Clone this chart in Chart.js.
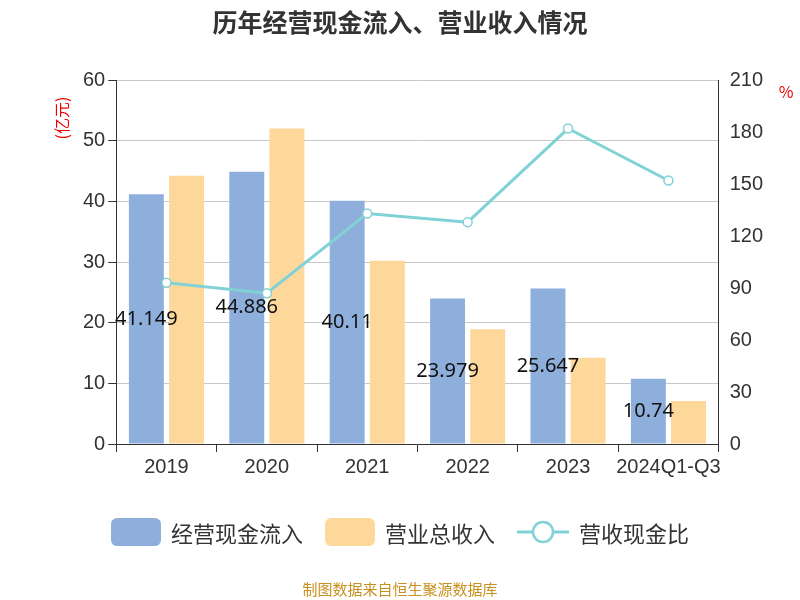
<!DOCTYPE html>
<html>
<head>
<meta charset="utf-8">
<script src="https://cdn.jsdelivr.net/npm/chart.js@4"></script>
<style>
  body { margin: 0; background: #fff; font-family: "Noto Sans CJK SC", "Noto Sans", sans-serif; }
  #wrap { position: relative; width: 800px; height: 600px; }
  #legend { position: absolute; top: 516px; left: 0; width: 800px; display: flex; justify-content: center; gap: 22px; font-size: 22px; color: #333; }
  .item { display: flex; align-items: center; gap: 10px; }
  .box { width: 50px; height: 28px; border-radius: 6px; }
  #src { position: absolute; top: 578px; width: 800px; text-align: center; font-size: 15px; color: #c8901e; }
</style>
</head>
<body>
<div id="wrap">
  <canvas id="c" width="800" height="600"></canvas>
  <div id="legend">
    <div class="item"><div class="box" style="background:#8eaedc"></div>经营现金流入</div>
    <div class="item"><div class="box" style="background:#fed89a"></div>营业总收入</div>
    <div class="item">
      <svg width="52" height="28"><line x1="0" y1="14" x2="52" y2="14" stroke="#80d2d6" stroke-width="3"/><circle cx="26" cy="14" r="10" fill="#fff" stroke="#80d2d6" stroke-width="2.5"/></svg>
      营收现金比
    </div>
  </div>
  <div id="src">制图数据来自恒生聚源数据库</div>
</div>
<script>
const categories = ["2019", "2020", "2021", "2022", "2023", "2024Q1-Q3"];
const cashInflow = [41.149, 44.886, 40.11, 23.979, 25.647, 10.74];
const revenue = [44.2, 52.0, 30.2, 18.9, 14.2, 7.1];
const cashRatio = [93, 87, 133, 128, 182, 152];

// 柱子中间的数值标签
const barLabels = {
  id: "barLabels",
  afterDatasetsDraw(chart) {
    const ctx = chart.ctx;
    const meta = chart.getDatasetMeta(0);
    ctx.save();
    ctx.font = "20px 'Noto Sans', sans-serif";
    ctx.fillStyle = "#111";
    ctx.textAlign = "center";
    ctx.textBaseline = "middle";
    meta.data.forEach((bar, i) => {
      ctx.fillText(String(cashInflow[i]), bar.x, (bar.y + bar.base) / 2);
    });
    ctx.restore();
  }
};

const titles = {
  id: "titles",
  afterDraw(chart) {
    const ctx = chart.ctx;
    ctx.save();
    ctx.fillStyle = "#333";
    ctx.font = "bold 25px 'Noto Sans CJK SC'";
    ctx.textAlign = "center";
    ctx.fillText("历年经营现金流入、营业收入情况", 400, 32);
    ctx.fillStyle = "#e00";
    ctx.font = "16px 'Noto Sans CJK SC'";
    ctx.fillText("%", 786, 98);
    ctx.translate(68, 118);
    ctx.rotate(-Math.PI / 2);
    ctx.fillText("(亿元)", 0, 0);
    ctx.restore();
  }
};

new Chart(document.getElementById("c"), {
  data: {
    labels: categories,
    datasets: [
      { type: "bar", label: "经营现金流入", data: cashInflow, backgroundColor: "#8eaedc", yAxisID: "y", order: 2, barPercentage: 0.87, categoryPercentage: 0.8 },
      { type: "bar", label: "营业总收入", data: revenue, backgroundColor: "#fed89a", yAxisID: "y", order: 2, barPercentage: 0.87, categoryPercentage: 0.8 },
      { type: "line", label: "营收现金比", data: cashRatio, borderColor: "#80d2d6", borderWidth: 3, pointRadius: 4.5, pointBackgroundColor: "#fff", pointBorderColor: "#80d2d6", pointBorderWidth: 1.5, yAxisID: "y1", order: 1 }
    ]
  },
  options: {
    responsive: false,
    animation: false,
    layout: { padding: { top: 80, left: 80, right: 34, bottom: 118 } },
    plugins: { legend: { display: false }, tooltip: { enabled: false } },
    scales: {
      x: {
        grid: { display: true, offset: true, drawOnChartArea: false, tickColor: "#333", tickLength: 8 },
        border: { color: "#333" },
        ticks: { color: "#333", font: { size: 20 }, maxRotation: 0, minRotation: 0, autoSkip: false }
      },
      y: {
        min: 0, max: 60,
        ticks: { stepSize: 10, color: "#333", font: { size: 20 } },
        grid: { color: "#c8c8c8", tickColor: "#333", tickLength: 8 },
        border: { color: "#333" }
      },
      y1: {
        position: "right", min: 0, max: 210,
        ticks: { stepSize: 30, color: "#333", font: { size: 20 } },
        grid: { display: false, tickColor: "#333", tickLength: 8 },
        border: { color: "#333" }
      }
    }
  },
  plugins: [barLabels, titles]
});
</script>
</body>
</html>
